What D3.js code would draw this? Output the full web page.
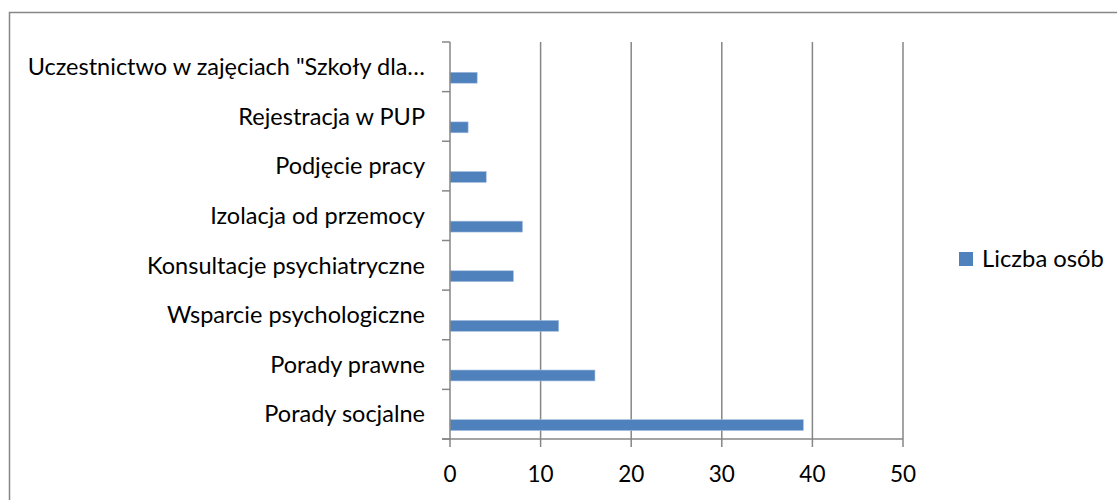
<!DOCTYPE html>
<html>
<head>
<meta charset="utf-8">
<script src="https://cdn.jsdelivr.net/npm/d3@7"></script>
<style>
  body { margin: 0; background: #fff; }
  text { font-family: Lato, "Open Sans", sans-serif; fill: #000; }
</style>
</head>
<body>
<div id="chart"></div>
<script>
// data
var categories = [
  'Uczestnictwo w zajęciach "Szkoły dla…',
  'Rejestracja w PUP',
  'Podjęcie pracy',
  'Izolacja od przemocy',
  'Konsultacje psychiatryczne',
  'Wsparcie psychologiczne',
  'Porady prawne',
  'Porady socjalne'
];
var values = [3, 2, 4, 8, 7, 12, 16, 39];
var seriesName = 'Liczba osób';
var xTicks = [0, 10, 20, 30, 40, 50];

var width = 1117, height = 500;
var plot = { left: 450, right: 903, top: 42, bottom: 439 };
var barColor = '#4f81bd';
var gridColor = '#868686';

var svg = d3.select('#chart').append('svg')
  .attr('width', width)
  .attr('height', height);

// outer chart border
svg.append('rect')
  .attr('x', 9.5).attr('y', 12.5)
  .attr('width', 1200).attr('height', 600)
  .attr('fill', '#fff')
  .attr('stroke', gridColor)
  .attr('stroke-width', 1.5);

var x = d3.scaleLinear().domain([0, 50]).range([plot.left, plot.right]);
var y = d3.scaleBand().domain(categories).range([plot.top, plot.bottom]);

// vertical gridlines
svg.append('g')
  .selectAll('line')
  .data(xTicks.slice(1))
  .enter().append('line')
  .attr('x1', function(d) { return x(d); })
  .attr('x2', function(d) { return x(d); })
  .attr('y1', plot.top)
  .attr('y2', plot.bottom)
  .attr('stroke', gridColor)
  .attr('stroke-width', 1.5);

// bars sit in the lower part of each band
svg.append('g')
  .selectAll('rect')
  .data(values)
  .enter().append('rect')
  .attr('x', x(0))
  .attr('y', function(d, i) { return y(categories[i]) + y.bandwidth() * 0.61; })
  .attr('width', function(d) { return x(d) - x(0); })
  .attr('height', y.bandwidth() * 0.22)
  .attr('fill', barColor)
  .attr('stroke', '#a7c0de')
  .attr('stroke-width', 0.6);

// y axis
var yAxis = svg.append('g')
  .attr('transform', 'translate(' + plot.left + ',0)');
yAxis.append('line')
  .attr('x1', 0).attr('x2', 0)
  .attr('y1', plot.top).attr('y2', plot.bottom)
  .attr('stroke', gridColor).attr('stroke-width', 1.5);
yAxis.selectAll('.tickmark')
  .data(d3.range(categories.length + 1))
  .enter().append('line')
  .attr('x1', -8).attr('x2', 0)
  .attr('y1', function(i) { return plot.top + i * y.step(); })
  .attr('y2', function(i) { return plot.top + i * y.step(); })
  .attr('stroke', gridColor).attr('stroke-width', 1.5);
yAxis.selectAll('.label')
  .data(categories)
  .enter().append('text')
  .attr('x', -25)
  .attr('y', function(d) { return y(d) + y.bandwidth() / 2; })
  .attr('dy', '0.35em')
  .attr('text-anchor', 'end')
  .style('font-size', '23.5px')
  .text(function(d) { return d; });

// x axis
var xAxis = svg.append('g');
xAxis.append('line')
  .attr('x1', plot.left - 8).attr('x2', plot.right)
  .attr('y1', plot.bottom).attr('y2', plot.bottom)
  .attr('stroke', gridColor).attr('stroke-width', 1.5);
xAxis.selectAll('.tickmark')
  .data(xTicks)
  .enter().append('line')
  .attr('x1', function(d) { return x(d); })
  .attr('x2', function(d) { return x(d); })
  .attr('y1', plot.bottom).attr('y2', plot.bottom + 8)
  .attr('stroke', gridColor).attr('stroke-width', 1.5);
xAxis.selectAll('.label')
  .data(xTicks)
  .enter().append('text')
  .attr('x', function(d) { return x(d); })
  .attr('y', 482)
  .attr('text-anchor', 'middle')
  .style('font-size', '22.5px')
  .text(function(d) { return d; });

// legend
var legend = svg.append('g').attr('transform', 'translate(959,252)');
legend.append('rect')
  .attr('width', 14).attr('height', 14)
  .attr('fill', barColor);
legend.append('text')
  .attr('x', 23).attr('y', 15)
  .style('font-size', '23.8px')
  .text(seriesName);
</script>
</body>
</html>
